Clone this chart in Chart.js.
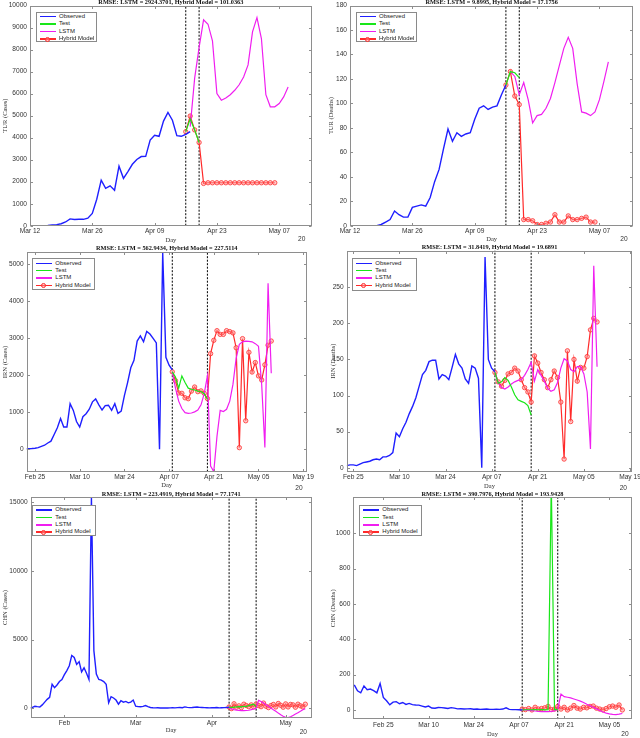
<!DOCTYPE html>
<html>
<head>
<meta charset="utf-8">
<script src="https://cdn.jsdelivr.net/npm/chart.js@4.4.0/dist/chart.umd.min.js"></script>
<style>
  html, body { margin: 0; padding: 0; background: #fff; }
  body { width: 640px; height: 738px; overflow: hidden; position: relative; }
  canvas { position: absolute; }
  .legend { position: absolute; box-sizing: border-box; border: 1px solid #8a8a8a; background: #fff;
            font: 6px "Liberation Sans", Arial, sans-serif; color: #1a1a1a; padding-top: 0.3px; }
  .legend .row { position: relative; height: 7.4px; line-height: 7.4px; padding-left: 22px; white-space: nowrap; }
  .legend .row i { position: absolute; left: 2.5px; top: 3px; width: 16px; height: 1.5px; }
  .legend .row b { position: absolute; left: 8px; top: 1.6px; width: 2.8px; height: 2.8px; border-radius: 50%;
                   border: 0.8px solid #ff3030; background: rgba(255,150,150,0.5); }
</style>
</head>
<body>
<script>
// --- Datos: Turquía (día 0 = Mar 12) ---
const turTickDays = [0, 14, 28, 42, 56];
const turTickLabels = ['Mar 12', 'Mar 26', 'Apr 09', 'Apr 23', 'May 07'];
const turSplitDays = [35, 38];

const turCasesYTicks = [0, 1000, 2000, 3000, 4000, 5000, 6000, 7000, 8000, 9000, 10000];
const turCasesObsStart = 0;
const turCasesObs = [0, 0, 0, 0, 10, 30, 50, 90, 170, 310, 280, 290, 290, 340, 560, 1200, 2070, 1700, 1810, 1610,
  2700, 2150, 2460, 2790, 3010, 3140, 3150, 3890, 4110, 4060, 4750, 5140, 4790, 4090, 4060, 4150, 4270];
const turCasesTestStart = 35;
const turCasesTest = [4270, 4850, 4350, 3780];
const turCasesLstmStart = 36;
const turCasesLstm = [4500, 6700, 8100, 9350, 9150, 8400, 6000, 5700, 5800, 5950, 6150, 6400, 6750, 7300, 8800,
  9450, 8500, 5950, 5400, 5400, 5550, 5850, 6300];
const turCasesHybridStart = 35;
const turCasesHybrid = [4270, 4980, 4350, 3780, 1920, 1950, 1950, 1950, 1950, 1950, 1950, 1950, 1950, 1950, 1950,
  1950, 1950, 1950, 1950, 1950, 1950];

const turDeathsYTicks = [0, 20, 40, 60, 80, 100, 120, 140, 160, 180];
const turDeathsObsStart = 0;
const turDeathsObs = [0, 0, 0, 0, 0, 0, 0, 1, 3, 5, 12, 9, 7, 7, 15, 16, 17, 16, 23, 36, 46, 63, 79, 69, 76, 73,
  75, 76, 87, 96, 98, 95, 97, 98, 107, 115];
const turDeathsTestStart = 35;
const turDeathsTest = [115, 126, 125, 121];
const turDeathsLstmStart = 36;
const turDeathsLstm = [126, 122, 107, 117, 103, 84, 90, 91, 96, 104, 117, 131, 145, 154, 145, 116, 93, 92, 90, 93,
  103, 118, 134];
const turDeathsHybridStart = 35;
const turDeathsHybrid = [115, 126, 106, 99, 5, 5, 4, 1, 1, 2, 3, 9, 3, 3, 8, 5, 5, 6, 7, 3, 3];

// --- Datos: Irán (día 0 = Feb 25) ---
const irnTickDays = [0, 14, 28, 42, 56, 70, 84];
const irnTickLabels = ['Feb 25', 'Mar 10', 'Mar 24', 'Apr 07', 'Apr 21', 'May 05', 'May 19'];
const irnSplitDays = [43, 54];

const irnCasesYTicks = [0, 1000, 2000, 3000, 4000, 5000];
const irnCasesObsStart = -3;
const irnCasesObs = [10, 15, 20, 30, 45, 80, 110, 170, 220, 400, 580, 830, 600, 600, 1230, 1050, 750, 600, 880,
  960, 1080, 1280, 1360, 1200, 1060, 1180, 1190, 1050, 1230, 970, 1030, 1450, 1800, 2200, 2400, 2920, 3060,
  2900, 3180, 3110, 2990, 2870, 0, 5300, 2480, 2270, 2140];
const irnCasesTestStart = 43;
const irnCasesTest = [2090, 1950, 1650, 1980, 1800, 1650, 1620, 1600, 1570, 1560, 1500, 1350];
const irnCasesLstmStart = 43;
const irnCasesLstm = [2090, 1650, 1300, 1100, 990, 970, 980, 1010, 1060, 1200, 1500, 1980, -450, -600, 350, 1050,
  1020, 1080, 1300, 1750, 2450, 2830, 2900, 2920, 2910, 2900, 2850, 2780, 1750, 50, 4480, 2050];
const irnCasesHybridStart = 43;
const irnCasesHybrid = [2090, 1850, 1520, 1510, 1390, 1365, 1570, 1680, 1555, 1575, 1510, 1370, 2580, 2940, 3200,
  3100, 3100, 3200, 3175, 3140, 2740, 45, 2985, 770, 2615, 2085, 2340, 1980, 1870, 2280, 2810, 2920];

const irnDeathsYTicks = [0, 50, 100, 150, 200, 250];
const irnDeathsObsStart = -2;
const irnDeathsObs = [3, 4, 4, 3, 5, 7, 8, 9, 11, 12, 11, 15, 15, 17, 21, 48, 43, 54, 63, 75, 85, 97, 113, 129,
  135, 147, 149, 149, 123, 129, 127, 122, 139, 157, 144, 138, 123, 117, 141, 138, 124, 0, 292, 150, 138, 133];
const irnDeathsTestStart = 43;
const irnDeathsTest = [132, 117, 119, 125, 121, 112, 101, 94, 92, 90, 86, 73];
const irnDeathsLstmStart = 43;
const irnDeathsLstm = [132, 118, 111, 109, 112, 116, 119, 121, 122, 128, 136, 146, 120, 136, 128, 120, 110, 106,
  108, 118, 138, 151, 148, 136, 133, 140, 140, 130, 105, 26, 280, 140];
const irnDeathsHybridStart = 43;
const irnDeathsHybrid = [132, 119, 113, 121, 130, 132, 138, 134, 122, 111, 105, 91, 155, 145, 132, 122, 111, 122,
  134, 125, 91, 12, 162, 64, 150, 120, 139, 138, 154, 191, 207, 202];

// --- Datos: China, casos (día 0 = Feb 1) ---
const chnCasesTickDays = [0, 29, 60, 90];
const chnCasesTickLabels = ['Feb', 'Mar', 'Apr', 'May'];
const chnCasesSplitDays = [67, 78];
const chnCasesYTicks = [0, 5000, 10000, 15000];
const chnCasesObsStart = -14;
const chnCasesObs = [30, 70, 150, 120, 100, 250, 450, 650, 800, 1750, 1500, 1700, 1950, 2100, 2450, 2750, 3100,
  3850, 3700, 3200, 3400, 2650, 2950, 2550, 2100, 15350, 4200, 2500, 2100, 2050, 1950, 1750, 400, 850, 750, 600,
  300, 550, 450, 500, 400, 450, 600, 150, 120, 110, 140, 200, 120, 60, 40, 30, 40, 20, 25, 30, 20, 35, 40, 30, 50,
  60, 40, 100, 70, 50, 60, 80, 90, 70, 60, 50, 40, 30, 50, 40, 60, 30, 40, 50, 60, 70];
const chnCasesTestStart = 67;
const chnCasesTest = [70, 60, 90, 100, 120, 100, 150, 130, 200, 250, 300, 120];
const chnCasesLstmStart = 67;
const chnCasesLstm = [50, -50, -100, -130, -150, -170, -170, -160, -140, -100, -50, 0, 580, 500, 380, 260, 150, 30,
  -100, -220, -350, -470, -580, -650, -680, -620, -520, -420, -320, -220, -110, -30];
const chnCasesHybridStart = 67;
const chnCasesHybrid = [100, -20, 330, 80, 180, 50, 300, 200, 120, 250, 100, 320, 200, 120, 380, 150, 50, 200, 280,
  100, 350, 220, 80, 320, 100, 280, 250, 80, 300, 180, 100, 300];

// --- Datos: China, fallecidos (día 0 = Feb 25) ---
const chnDeathsTickDays = [0, 14, 28, 42, 56, 70];
const chnDeathsTickLabels = ['Feb 25', 'Mar 10', 'Mar 24', 'Apr 07', 'Apr 21', 'May 05'];
const chnDeathsSplitDays = [43, 54];
const chnDeathsYTicks = [0, 200, 400, 600, 800, 1000];
const chnDeathsObsStart = -9;
const chnDeathsObs = [142, 108, 97, 136, 114, 118, 109, 97, 150, 71, 52, 29, 44, 47, 35, 42, 31, 37, 30, 28, 27, 22,
  17, 22, 11, 10, 14, 13, 11, 8, 13, 10, 6, 7, 5, 6, 7, 4, 5, 3, 4, 5, 3, 3, 4, 3, 5, 12, 3, 2, 2, 1, 0];
const chnDeathsTestStart = 43;
const chnDeathsTest = [0, 1, 1, 1, 2, 1, 2, 0, 1, 1290, 2, 3];
const chnDeathsLstmStart = 43;
const chnDeathsLstm = [2, 0, -2, -4, -6, -8, -9, -10, -10, -8, -5, 5, 90, 75, 72, 68, 62, 56, 50, 42, 32, 24, 15, 6,
  -3, -12, -18, -22, -25, -26, -24, -20];
const chnDeathsHybridStart = 43;
const chnDeathsHybrid = [5, 2, 8, 0, 15, 5, 8, 12, 20, 2, 5, 20, 5, 15, 0, 10, 25, 10, 5, 15, 12, 20, 22, 10, 5, 0,
  8, 18, 22, 15, 28, 0];

// --- Estilos ---
const SANS = '"Liberation Sans", Arial, sans-serif';
const SERIF = '"Liberation Serif", "Times New Roman", serif';
const TICK_SIZE = 6.6;
const LABEL_SIZE = 6.5;
const TITLE_SIZE = 6.3;

const seriesStyle = {
  obs:    { label: 'Observed',     color: '#1f1fff', width: 1.4 },
  test:   { label: 'Test',         color: '#19e619', width: 1.2 },
  lstm:   { label: 'LSTM',         color: '#f01ef0', width: 1.2 },
  hybrid: { label: 'Hybrid Model', color: '#ff2a2a', width: 1.2 }
};

// --- Paneles (posiciones en px de la página) ---
const panels = [
  {
    canvas: [0, -3, 320, 250], area: [30, 5.5, 311.7, 225.7],
    x: [0, 63.3], y: [0, 10000], xTicks: turTickDays, xLabels: turTickLabels, yTicks: turCasesYTicks,
    title: 'RMSE: LSTM = 2924.3701, Hybrid Model = 101.0363', titleY: 2,
    yTitle: 'TUR (Cases)', yTitleX: 5, dayY: 240, yearAt: [301.7, 239.3], legend: [36, 11.7, 60.7, 30.6],
    splits: turSplitDays,
    obs: [turCasesObsStart, turCasesObs], test: [turCasesTestStart, turCasesTest],
    lstm: [turCasesLstmStart, turCasesLstm], hybrid: [turCasesHybridStart, turCasesHybrid]
  },
  {
    canvas: [320, -3, 320, 250], area: [350, 5.5, 633.3, 225.7],
    x: [0, 63.6], y: [0, 180], xTicks: turTickDays, xLabels: turTickLabels, yTicks: turDeathsYTicks,
    title: 'RMSE: LSTM = 9.8995, Hybrid Model = 17.1756', titleY: 2,
    yTitle: 'TUR (Deaths)', yTitleX: 331.7, dayY: 239.3, yearAt: [624, 239.3], legend: [356, 11.7, 60.7, 30.6],
    splits: turSplitDays,
    obs: [turDeathsObsStart, turDeathsObs], test: [turDeathsTestStart, turDeathsTest],
    lstm: [turDeathsLstmStart, turDeathsLstm], hybrid: [turDeathsHybridStart, turDeathsHybrid]
  },
  {
    canvas: [0, 240, 320, 252], area: [26.7, 252.3, 306.7, 471.7],
    x: [-2.6, 85.1], y: [-604, 5314], xTicks: irnTickDays, xLabels: irnTickLabels, yTicks: irnCasesYTicks,
    title: 'RMSE: LSTM = 562.9434, Hybrid Model = 227.5114', titleY: 248.8,
    yTitle: 'IRN (Cases)', yTitleX: 5, dayY: 485.7, yearAt: [299, 488.3], legend: [32.3, 258.3, 62.7, 31.7],
    splits: irnSplitDays,
    obs: [irnCasesObsStart, irnCasesObs], test: [irnCasesTestStart, irnCasesTest],
    lstm: [irnCasesLstmStart, irnCasesLstm], hybrid: [irnCasesHybridStart, irnCasesHybrid]
  },
  {
    canvas: [320, 240, 320, 252], area: [346.7, 250.5, 632.3, 471.7],
    x: [-2.0, 84.7], y: [-5.5, 301], xTicks: irnTickDays, xLabels: irnTickLabels, yTicks: irnDeathsYTicks,
    title: 'RMSE: LSTM = 31.8419, Hybrid Model = 19.6891', titleY: 248.5,
    yTitle: 'IRN (Deaths)', yTitleX: 333.3, dayY: 486.7, yearAt: [623.3, 488.3], legend: [352.3, 258.3, 64.4, 32.7],
    splits: irnSplitDays,
    obs: [irnDeathsObsStart, irnDeathsObs], test: [irnDeathsTestStart, irnDeathsTest],
    lstm: [irnDeathsLstmStart, irnDeathsLstm], hybrid: [irnDeathsHybridStart, irnDeathsHybrid]
  },
  {
    canvas: [0, 486, 320, 252], area: [30.7, 497.3, 311.7, 717.7],
    x: [-13.7, 100.6], y: [-684, 15364], xTicks: chnCasesTickDays, xLabels: chnCasesTickLabels, yTicks: chnCasesYTicks,
    title: 'RMSE: LSTM = 223.4919, Hybrid Model = 77.1741', titleY: 494.8,
    yTitle: 'CHN (Cases)', yTitleX: 5, dayY: 730.7, yearAt: [303.3, 732], legend: [32.3, 505, 63.4, 30.7],
    splits: chnCasesSplitDays,
    obs: [chnCasesObsStart, chnCasesObs], test: [chnCasesTestStart, chnCasesTest],
    lstm: [chnCasesLstmStart, chnCasesLstm], hybrid: [chnCasesHybridStart, chnCasesHybrid]
  },
  {
    canvas: [320, 486, 320, 252], area: [353.3, 497.3, 631.7, 719.3],
    x: [-9.3, 76.9], y: [-53, 1204], xTicks: chnDeathsTickDays, xLabels: chnDeathsTickLabels, yTicks: chnDeathsYTicks,
    title: 'RMSE: LSTM = 390.7976, Hybrid Model = 193.9428', titleY: 494.8,
    yTitle: 'CHN (Deaths)', yTitleX: 333.3, dayY: 734.5, yearAt: [625, 734], legend: [359.3, 505, 62.4, 31],
    splits: chnDeathsSplitDays,
    obs: [chnDeathsObsStart, chnDeathsObs], test: [chnDeathsTestStart, chnDeathsTest],
    lstm: [chnDeathsLstmStart, chnDeathsLstm], hybrid: [chnDeathsHybridStart, chnDeathsHybrid]
  }
];

// Caja estilo MATLAB: marco, ticks hacia dentro y el "20" del año
const matlabBox = {
  id: 'matlabBox',
  afterDatasetsDraw(chart, args, opts) {
    const { ctx, chartArea: a, scales: { x, y } } = chart;
    const L = Math.round(a.left) + 0.5, R = Math.round(a.right) - 0.5;
    const T = Math.round(a.top) + 0.5, B = Math.round(a.bottom) - 0.5;
    ctx.save();
    ctx.strokeStyle = '#8e8e8e';
    ctx.lineWidth = 1;
    ctx.strokeRect(L, T, R - L, B - T);
    ctx.beginPath();
    x.ticks.forEach(t => {
      const px = Math.round(x.getPixelForValue(t.value)) + 0.5;
      ctx.moveTo(px, B); ctx.lineTo(px, B - 2.5);
      ctx.moveTo(px, T); ctx.lineTo(px, T + 2.5);
    });
    y.ticks.forEach(t => {
      const py = Math.round(y.getPixelForValue(t.value)) + 0.5;
      ctx.moveTo(L, py); ctx.lineTo(L + 2.5, py);
      ctx.moveTo(R, py); ctx.lineTo(R - 2.5, py);
    });
    ctx.stroke();
    ctx.fillStyle = '#333';
    ctx.font = `${TICK_SIZE}px ${SANS}`;
    ctx.textAlign = 'center';
    ctx.textBaseline = 'middle';
    ctx.fillText(opts.year, opts.yearX, opts.yearY);
    ctx.restore();
  }
};

const toPoints = (start, values) => values.map((v, i) => ({ x: start + i, y: v }));

function lineDataset(key, pair) {
  const s = seriesStyle[key];
  const ds = {
    label: s.label,
    data: toPoints(pair[0], pair[1]),
    borderColor: s.color,
    borderWidth: s.width,
    pointRadius: 0,
    tension: 0,
    fill: false
  };
  if (key === 'hybrid') {
    ds.pointRadius = 2.2;
    ds.pointStyle = 'circle';
    ds.pointBorderWidth = 0.8;
    ds.pointBorderColor = '#ff3030';
    ds.pointBackgroundColor = 'rgba(255,150,150,0.5)';
  }
  return ds;
}

function renderLegend(p) {
  const [l, t, w, h] = p.legend;
  const box = document.createElement('div');
  box.className = 'legend';
  box.style.cssText = `left:${l}px;top:${t}px;width:${w}px;height:${h}px;`;
  box.innerHTML = ['obs', 'test', 'lstm', 'hybrid'].map(k => `
    <div class="row"><i style="background:${seriesStyle[k].color}"></i>${k === 'hybrid' ? '<b></b>' : ''}${seriesStyle[k].label}</div>
  `).join('');
  document.body.appendChild(box);
}

function renderPanel(p) {
  const [cl, ct, cw, ch] = p.canvas;
  const [al, at, ar, ab] = p.area;
  const cv = document.createElement('canvas');
  cv.width = cw; cv.height = ch;
  cv.style.left = cl + 'px'; cv.style.top = ct + 'px';
  cv.style.width = cw + 'px'; cv.style.height = ch + 'px';
  document.body.appendChild(cv);

  const labelLH = LABEL_SIZE * 1.2;
  const titlePadBottom = Math.max(0, at - p.titleY - TITLE_SIZE / 2);
  const padTop = at - ct - TITLE_SIZE - titlePadBottom;
  const dayPad = Math.max(0, (ct + ch) - p.dayY - labelLH / 2);
  const yTitlePad = Math.max(0, (p.yTitleX - cl) - labelLH / 2);

  const datasets = [
    lineDataset('obs', p.obs),
    lineDataset('test', p.test),
    lineDataset('lstm', p.lstm),
    lineDataset('hybrid', p.hybrid)
  ];
  // líneas verticales de división (train / test / pronóstico)
  p.splits.forEach(d => datasets.push({
    label: 'split',
    data: [{ x: d, y: p.y[0] }, { x: d, y: p.y[1] }],
    borderColor: '#000',
    borderWidth: 1,
    borderDash: [2, 1.5],
    pointRadius: 0
  }));

  new Chart(cv.getContext('2d'), {
    type: 'line',
    data: { datasets },
    plugins: [matlabBox],
    options: {
      responsive: false,
      animation: false,
      devicePixelRatio: 1,
      events: [],
      layout: { padding: { left: 0, right: (cl + cw) - ar, top: padTop, bottom: 0 } },
      plugins: {
        legend: { display: false },
        tooltip: { enabled: false },
        title: {
          display: true, text: p.title, fullSize: false, color: '#111',
          font: { family: SERIF, size: TITLE_SIZE, weight: 'bold', lineHeight: 1 },
          padding: { top: 0, bottom: titlePadBottom }
        },
        matlabBox: { year: '20', yearX: p.yearAt[0] - cl, yearY: p.yearAt[1] - ct }
      },
      scales: {
        x: {
          type: 'linear', min: p.x[0], max: p.x[1],
          grid: { display: false, drawTicks: false },
          border: { display: false },
          ticks: {
            autoSkip: false, maxRotation: 0, minRotation: 0, padding: 2, color: '#333',
            font: { family: SANS, size: TICK_SIZE },
            callback: (v, i) => p.xLabels[i]
          },
          afterBuildTicks: s => { s.ticks = p.xTicks.map(v => ({ value: v })); },
          afterFit: s => { s.height = (ct + ch) - ab; s.paddingLeft = 0; s.paddingRight = 0; },
          title: {
            display: true, text: 'Day', color: '#333',
            font: { family: SERIF, size: LABEL_SIZE },
            padding: { top: 0, bottom: dayPad }
          }
        },
        y: {
          type: 'linear', min: p.y[0], max: p.y[1],
          grid: { display: false, drawTicks: false },
          border: { display: false },
          ticks: {
            padding: 3, color: '#333',
            font: { family: SANS, size: TICK_SIZE },
            callback: v => String(v)
          },
          afterBuildTicks: s => { s.ticks = p.yTicks.map(v => ({ value: v })); },
          afterFit: s => { s.width = al - cl; s.paddingTop = 0; s.paddingBottom = 0; },
          title: {
            display: true, text: p.yTitle, color: '#333',
            font: { family: SERIF, size: LABEL_SIZE },
            padding: { top: yTitlePad, bottom: 0 }
          }
        }
      }
    }
  });

  renderLegend(p);
}

panels.forEach(renderPanel);
</script>
</body>
</html>
